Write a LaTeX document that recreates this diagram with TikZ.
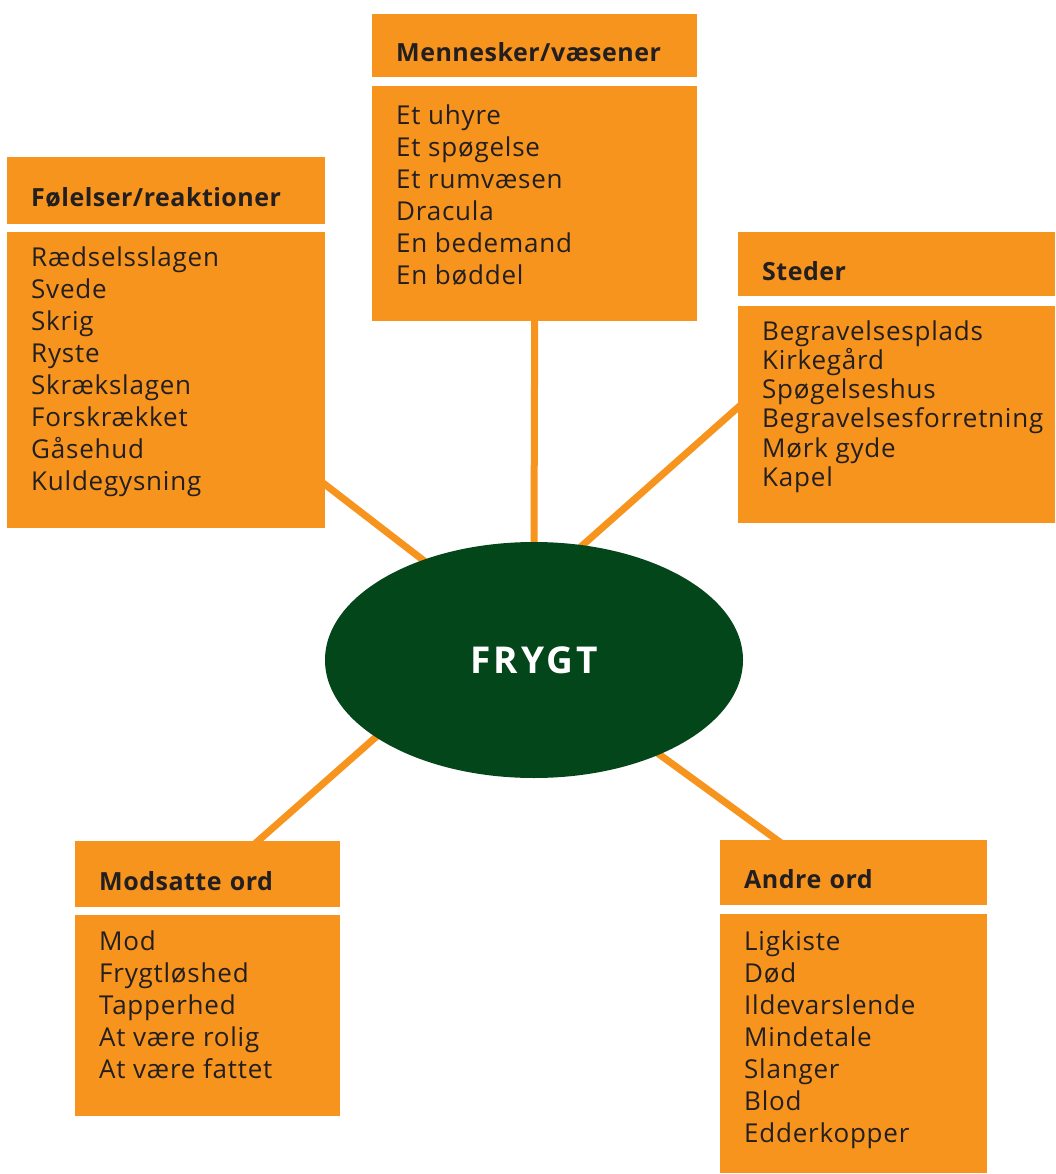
\documentclass[tikz,border=0pt]{standalone}
\usepackage{fontspec}
\setmainfont{Open Sans}
\usetikzlibrary{positioning, shapes.geometric, backgrounds, calc}
\definecolor{boxorange}{HTML}{F7941E}
\definecolor{hubgreen}{HTML}{03461A}
\definecolor{inkgray}{HTML}{231F20}

\begin{document}
\begin{tikzpicture}[x=1pt, y=-1pt]
\tikzset{head/.style={rectangle, anchor=north west, fill=boxorange, text=inkgray, align=left, inner xsep=24pt, inner ysep=0pt, text height=32pt, text depth=0pt, font=\fontsize{25}{28}\selectfont\bfseries\addfontfeature{LetterSpace=2}},
		body/.style={rectangle, fill=boxorange, inner sep=0pt},
		items/.style={anchor=north west, align=left, text=inkgray, inner xsep=24pt, inner ysep=15pt, font=\fontsize{26}{32}\selectfont\addfontfeature{LetterSpace=3}},
		hub/.style={ellipse, fill=hubgreen, text=white, minimum width=418pt, minimum height=236pt, font=\fontsize{37}{40}\selectfont\bfseries\addfontfeature{LetterSpace=8}},
		spoke/.style={draw=boxorange, line width=7pt, shorten <=-6pt, shorten >=-10pt}}
\useasboundingbox (0,0) rectangle (1055,1174);

% centre
\node[hub] (hub) at (534,660) {FRYGT};

% feelings
\node[head, text width=270pt, minimum height=67pt] (feelhead) at (7,157) {Følelser/reaktioner};
\node[body, below=7pt of feelhead.south west, anchor=north west, minimum width=318pt, minimum height=296pt] (feelbox) {};
\node[items] (feellist) at (feelbox.north west) {Rædselsslagen\\Svede\\Skrig\\Ryste\\Skrækslagen\\Forskrækket\\Gåsehud\\Kuldegysning};

% beings
\node[head, text width=277pt, minimum height=63pt] (beinghead) at (372,14) {Mennesker/væsener};
\node[body, below=8pt of beinghead.south west, anchor=north west, minimum width=325pt, minimum height=235pt] (beingbox) {};
\node[items, inner ysep=19pt] (beinglist) at (beingbox.north west) {Et uhyre\\Et spøgelse\\Et rumvæsen\\Dracula\\En bedemand\\En bøddel};

% places
\node[head, text width=269pt, minimum height=64pt] (placehead) at (738,232) {Steder};
\node[body, below=9pt of placehead.south west, anchor=north west, minimum width=317pt, minimum height=217pt] (placebox) {};
\node[items, font=\fontsize{26}{29.2}\selectfont\addfontfeature{LetterSpace=3}] (placelist) at (placebox.north west) {Begravelsesplads\\Kirkegård\\Spøgelseshus\\Begravelsesforretning\\Mørk gyde\\Kapel};

% opposites
\node[head, text width=217pt, minimum height=66pt] (opphead) at (75,841) {Modsatte ord};
\node[body, below=7pt of opphead.south west, anchor=north west, minimum width=265pt, minimum height=201pt] (oppbox) {};
\node[items, inner ysep=16pt] (opplist) at (oppbox.north west) {Mod\\Frygtløshed\\Tapperhed\\At være rolig\\At være fattet};

% other words
\node[head, text width=219pt, minimum height=65pt] (otherhead) at (720,840) {Andre ord};
\node[body, below=8pt of otherhead.south west, anchor=north west, minimum width=267pt, minimum height=259pt] (otherbox) {};
\node[items, inner ysep=17pt] (otherlist) at (otherbox.north west) {Ligkiste\\Død\\Ildevarslende\\Mindetale\\Slanger\\Blod\\Edderkopper};

\begin{scope}[on background layer]
\draw[spoke] ($(feelbox.south east)+(0,-43)$) -- (hub.138);
\draw[spoke] (beingbox.south) -- (hub.north);
\draw[spoke] ($(placebox.north west)+(0,102)$) -- (hub.67);
\draw[spoke] ($(opphead.north west)+(183,0)$) -- (hub.206);
\draw[spoke] ($(otherhead.north west)+(57,0)$) -- (hub.323);
\end{scope}
\end{tikzpicture}
\end{document}
